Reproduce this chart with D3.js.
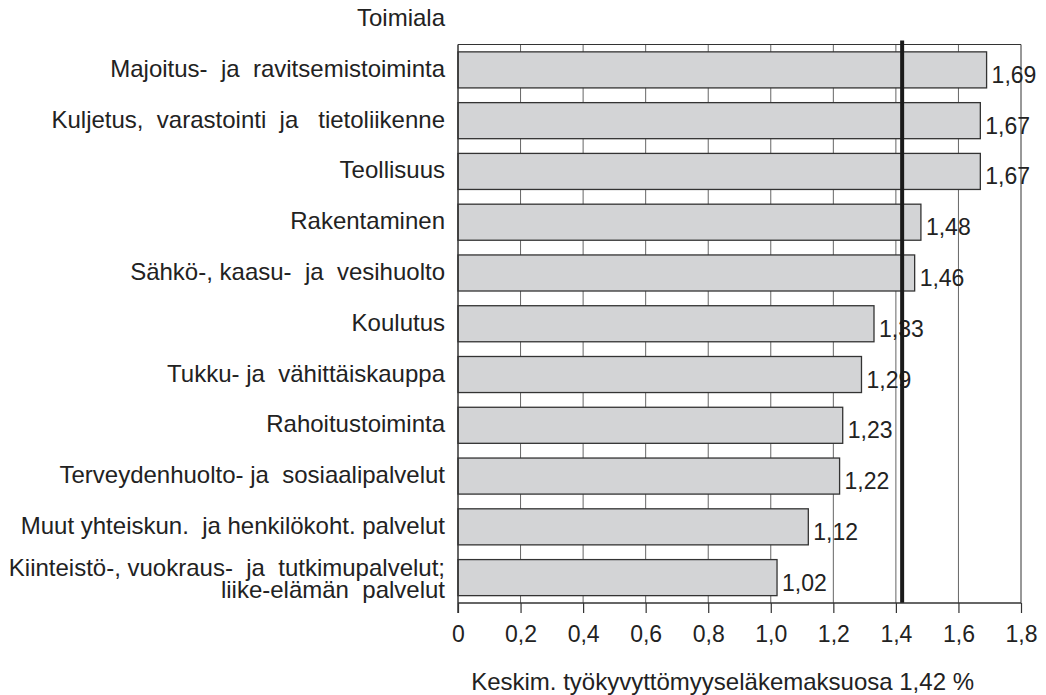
<!DOCTYPE html>
<html>
<head>
<meta charset="utf-8">
<script src="https://cdn.jsdelivr.net/npm/d3@7"></script>
<style>
  body { margin: 0; background: #fff; }
  svg text { font-family: "Liberation Sans", Arial, sans-serif; fill: #222; white-space: pre; }
</style>
</head>
<body>
<svg id="chart" width="1046" height="695"></svg>
<script>
// toimialat ylhäältä alas
var categories = [
    'Majoitus-  ja  ravitsemistoiminta',
    'Kuljetus,  varastointi  ja   tietoliikenne',
    'Teollisuus',
    'Rakentaminen',
    'Sähkö-, kaasu-  ja  vesihuolto',
    'Koulutus',
    'Tukku- ja  vähittäiskauppa',
    'Rahoitustoiminta',
    'Terveydenhuolto- ja  sosiaalipalvelut',
    'Muut yhteiskun.  ja henkilökoht. palvelut',
    'Kiinteistö-, vuokraus-  ja  tutkimupalvelut;\nliike-elämän  palvelut'
];
var values = [1.69, 1.67, 1.67, 1.48, 1.46, 1.33, 1.29, 1.23, 1.22, 1.12, 1.02];
var average = 1.42;
var xTicks = [0, 0.2, 0.4, 0.6, 0.8, 1.0, 1.2, 1.4, 1.6, 1.8];

var svg = d3.select('#chart');
var left = 458, right = 1021, plotTop = 44.5, bottom = 603;

var x = d3.scaleLinear().domain([0, 1.8]).range([left, right]);
var y = d3.scaleBand().domain(categories).range([plotTop, bottom]).paddingInner(0.29).paddingOuter(0.145);

var fmt = function(v) { return d3.format('.2f')(v).replace('.', ','); };
var fmtTick = function(v) { return d3.format('.1f')(v).replace('.', ',').replace(/^0,0$/, '0'); };

// pystysuorat apuviivat
svg.append('g')
    .selectAll('line')
    .data(xTicks.slice(1))
    .enter()
    .append('line')
    .attr('x1', function(d) { return x(d); })
    .attr('x2', function(d) { return x(d); })
    .attr('y1', plotTop)
    .attr('y2', bottom)
    .style('stroke', function(d) { return d == 1.8 ? '#333' : '#666'; })
    .style('stroke-width', 1);

// yläreuna
svg.append('line')
    .attr('x1', left).attr('x2', right)
    .attr('y1', plotTop).attr('y2', plotTop)
    .style('stroke', '#333').style('stroke-width', 1.2);

// palkit
svg.append('g')
    .selectAll('rect')
    .data(values)
    .enter()
    .append('rect')
    .attr('x', left)
    .attr('y', function(d, i) { return y(categories[i]); })
    .attr('width', function(d) { return x(d) - left; })
    .attr('height', y.bandwidth())
    .style('fill', '#d3d4d6')
    .style('stroke', '#333')
    .style('stroke-width', 1.3);

// arvot
svg.append('g')
    .selectAll('text')
    .data(values)
    .enter()
    .append('text')
    .attr('x', function(d) { return x(d) + 5; })
    .attr('y', function(d, i) { return y(categories[i]) + y.bandwidth() / 2 + 13; })
    .style('font-size', '23px')
    .text(function(d) { return fmt(d); });

// keskiarvoviiva
svg.append('line')
    .attr('x1', x(average)).attr('x2', x(average))
    .attr('y1', plotTop - 4).attr('y2', bottom)
    .style('stroke', '#1a1a1a').style('stroke-width', 4);

// x-akseli
var xAxis = d3.axisBottom(x)
    .tickValues(xTicks)
    .tickSize(10)
    .tickPadding(13)
    .tickFormat(fmtTick);

var gx = svg.append('g')
    .attr('transform', 'translate(0,' + bottom + ')')
    .call(xAxis);
gx.select('.domain').remove();
gx.selectAll('line').style('stroke', '#333').style('stroke-width', 1.2);
gx.selectAll('text')
    .style('font-size', '23px')
    .style('font-family', '"Liberation Sans", Arial, sans-serif')
    .style('fill', '#222');
gx.append('line')
    .attr('x1', left).attr('x2', right)
    .style('stroke', '#333').style('stroke-width', 1.5);

// vasen reuna
svg.append('line')
    .attr('x1', left).attr('x2', left)
    .attr('y1', plotTop).attr('y2', bottom + 10)
    .style('stroke', '#333').style('stroke-width', 1.5);

// luokkien nimet
var labels = svg.append('g')
    .selectAll('text')
    .data(categories)
    .enter()
    .append('text')
    .attr('text-anchor', 'end')
    .style('font-size', '24px');

labels.each(function(d) {
    var lines = d.split('\n');
    var cy = y(d) + y.bandwidth() / 2;
    var el = d3.select(this);
    lines.forEach(function(t, j) {
        el.append('tspan')
            .attr('x', 445)
            .attr('y', lines.length == 1 ? cy + 7 : cy - 2 + j * 22)
            .text(t);
    });
});

svg.append('text')
    .attr('x', 445).attr('y', 26)
    .attr('text-anchor', 'end')
    .style('font-size', '24px')
    .text('Toimiala');

svg.append('text')
    .attr('x', 974).attr('y', 690)
    .attr('text-anchor', 'end')
    .style('font-size', '24px')
    .text('Keskim. työkyvyttömyyseläkemaksuosa 1,42 %');
</script>
</body>
</html>
